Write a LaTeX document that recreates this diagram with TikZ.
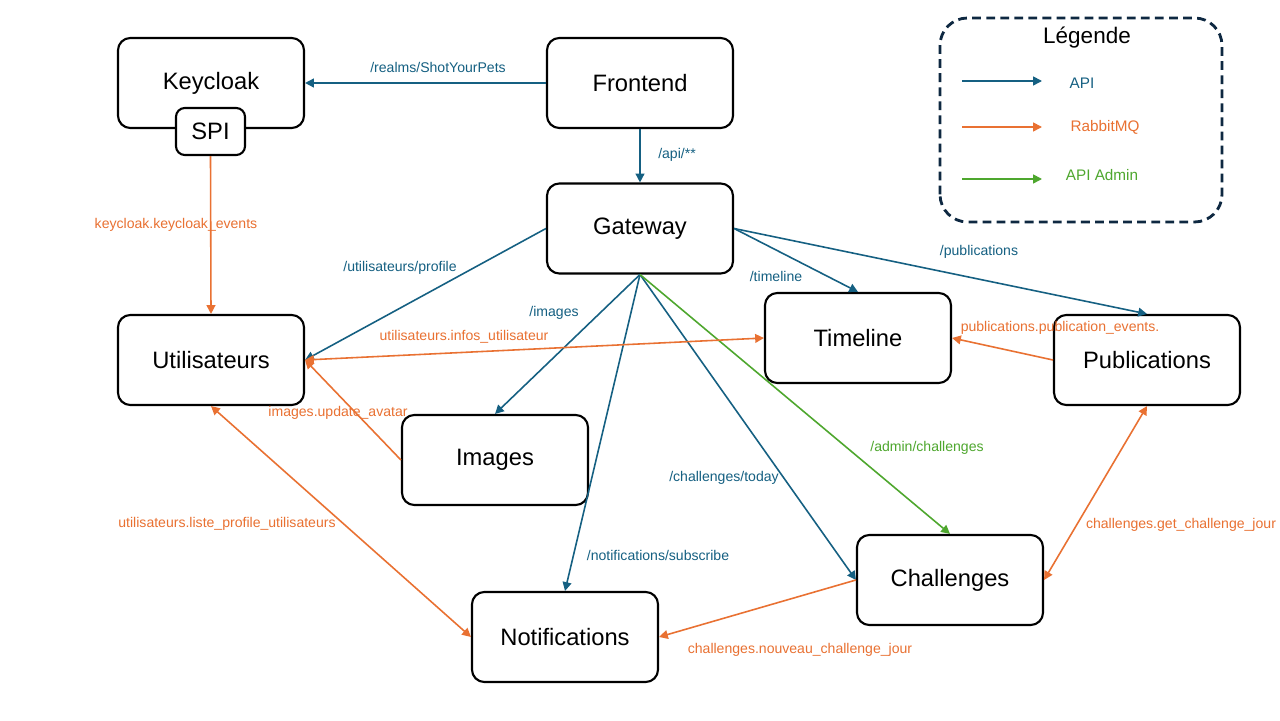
\documentclass[tikz,border=0pt]{standalone}
\usepackage{fontspec}
\setmainfont{Liberation Sans}
\usetikzlibrary{arrows.meta,positioning}

\definecolor{apiblue}{HTML}{156082}
\definecolor{mqorange}{HTML}{E97132}
\definecolor{admingreen}{HTML}{4EA72E}
\definecolor{legendnavy}{HTML}{0E2841}

\tikzset{
  service/.style={draw, line width=1.2pt, rounded corners=7pt, fill=white,
    minimum width=3.72cm, minimum height=1.8cm, font=\fontsize{13.5}{16}\selectfont},
  plugin/.style={service, rounded corners=5pt, minimum width=1.38cm, minimum height=0.94cm},
  api/.style={draw=apiblue, line width=0.9pt, -{Triangle[length=5pt,width=5pt]}},
  mq/.style={draw=mqorange, line width=0.9pt, -{Triangle[length=5pt,width=5pt]}},
  mqboth/.style={mq, {Triangle[length=5pt,width=5pt]}-{Triangle[length=5pt,width=5pt]}},
  admin/.style={draw=admingreen, line width=0.9pt, -{Triangle[length=5pt,width=5pt]}},
  apilabel/.style={text=apiblue, font=\fontsize{8}{10}\selectfont, inner sep=1pt},
  mqlabel/.style={text=mqorange, font=\fontsize{8}{10}\selectfont, inner sep=1pt},
  adminlabel/.style={text=admingreen, font=\fontsize{8}{10}\selectfont, inner sep=1pt},
}

\begin{document}
\begin{tikzpicture}
\useasboundingbox[fill=white] (0,0) rectangle (25.6,14.4);

% Services
\node[service] (keycloak) at (4.22,12.74) {Keycloak};
\node[plugin] (spi) at (4.21,11.77) {SPI};
\node[service] (frontend) at (12.8,12.74) {Frontend};
\node[service] (gateway) at (12.8,9.83) {Gateway};
\node[service] (utilisateurs) at (4.22,7.2) {Utilisateurs};
\node[service] (timeline) at (17.16,7.64) {Timeline};
\node[service] (publications) at (22.94,7.2) {Publications};
\node[service] (images) at (9.9,5.2) {Images};
\node[service] (challenges) at (19.0,2.8) {Challenges};
\node[service] (notifications) at (11.3,1.66) {Notifications};

% API calls
\draw[api] (frontend.west) -- (keycloak.east);
\draw[api] (frontend.south) -- (gateway.north);
\draw[api] (gateway.west) -- (utilisateurs.east);
\draw[api] (gateway.east) -- (timeline.north);
\draw[api] (gateway.east) -- (publications.north);
\draw[api] (gateway.south) -- (images.north);
\draw[api] (gateway.south) -- (notifications.north);
\draw[api] (gateway.south) -- (challenges.west);
\draw[admin] (gateway.south) -- (challenges.north);

% RabbitMQ queues
\draw[mq] (spi.south) -- (utilisateurs.north);
\draw[mqboth] (timeline.west) -- (utilisateurs.east);
\draw[mq] (publications.west) -- (timeline.east);
\draw[mq] (images.west) -- (utilisateurs.east);
\draw[mqboth] (utilisateurs.south) -- (notifications.west);
\draw[mq] (challenges.west) -- (notifications.east);
\draw[mqboth] (challenges.east) -- (publications.south);

% Labels
\node[apilabel] (lrealms) at (8.76,13.06) {/realms/ShotYourPets};
\node[apilabel] (lapi) at (13.54,11.3) {/api/**};
\node[apilabel] (lprofile) at (8.0,9.04) {/utilisateurs/profile};
\node[apilabel] (ltimeline) at (15.52,8.88) {/timeline};
\node[apilabel] (lpublications) at (19.58,9.36) {/publications};
\node[apilabel] (limages) at (11.08,8.14) {/images};
\node[apilabel] (lsubscribe) at (13.16,3.3) {/notifications/subscribe};
\node[apilabel] (ltoday) at (14.48,4.84) {/challenges/today};
\node[adminlabel] (ladmin) at (18.54,5.44) {/admin/challenges};
\node[mqlabel] (lkcevents) at (3.52,9.9) {keycloak.keycloak\_events};
\node[mqlabel] (linfos) at (9.28,7.66) {utilisateurs.infos\_utilisateur};
\node[mqlabel] (lpubevents) at (21.2,7.84) {publications.publication\_events.};
\node[mqlabel] (lavatar) at (6.76,6.14) {images.update\_avatar};
\node[mqlabel] (lliste) at (4.54,3.92) {utilisateurs.liste\_profile\_utilisateurs};
\node[mqlabel] (lnouveau) at (16.0,1.4) {challenges.nouveau\_challenge\_jour};
\node[mqlabel] (lgetjour) at (23.62,3.9) {challenges.get\_challenge\_jour};

% Legend
\draw[legendnavy, line width=1.6pt, dash pattern=on 5pt off 3pt, rounded corners=0.55cm]
  (18.8,9.96) rectangle (24.44,14.04);
\node[font=\fontsize{12.8}{15}\selectfont] (legendtitle) at (21.74,13.64) {Légende};
\coordinate (kapiA) at (19.24,12.78);
\coordinate (kapiB) at (20.84,12.78);
\coordinate (kmqA) at (19.24,11.86);
\coordinate (kmqB) at (20.84,11.86);
\coordinate (kadminA) at (19.24,10.82);
\coordinate (kadminB) at (20.84,10.82);
\draw[api] (kapiA) -- (kapiB);
\draw[mq] (kmqA) -- (kmqB);
\draw[admin] (kadminA) -- (kadminB);
\node[apilabel, font=\fontsize{8.7}{10}\selectfont] (kapi) at (21.64,12.74) {API};
\node[mqlabel, font=\fontsize{8.7}{10}\selectfont] (kmq) at (22.1,11.86) {RabbitMQ};
\node[adminlabel, font=\fontsize{8.7}{10}\selectfont] (kadmin) at (22.04,10.9) {API Admin};
\end{tikzpicture}
\end{document}
